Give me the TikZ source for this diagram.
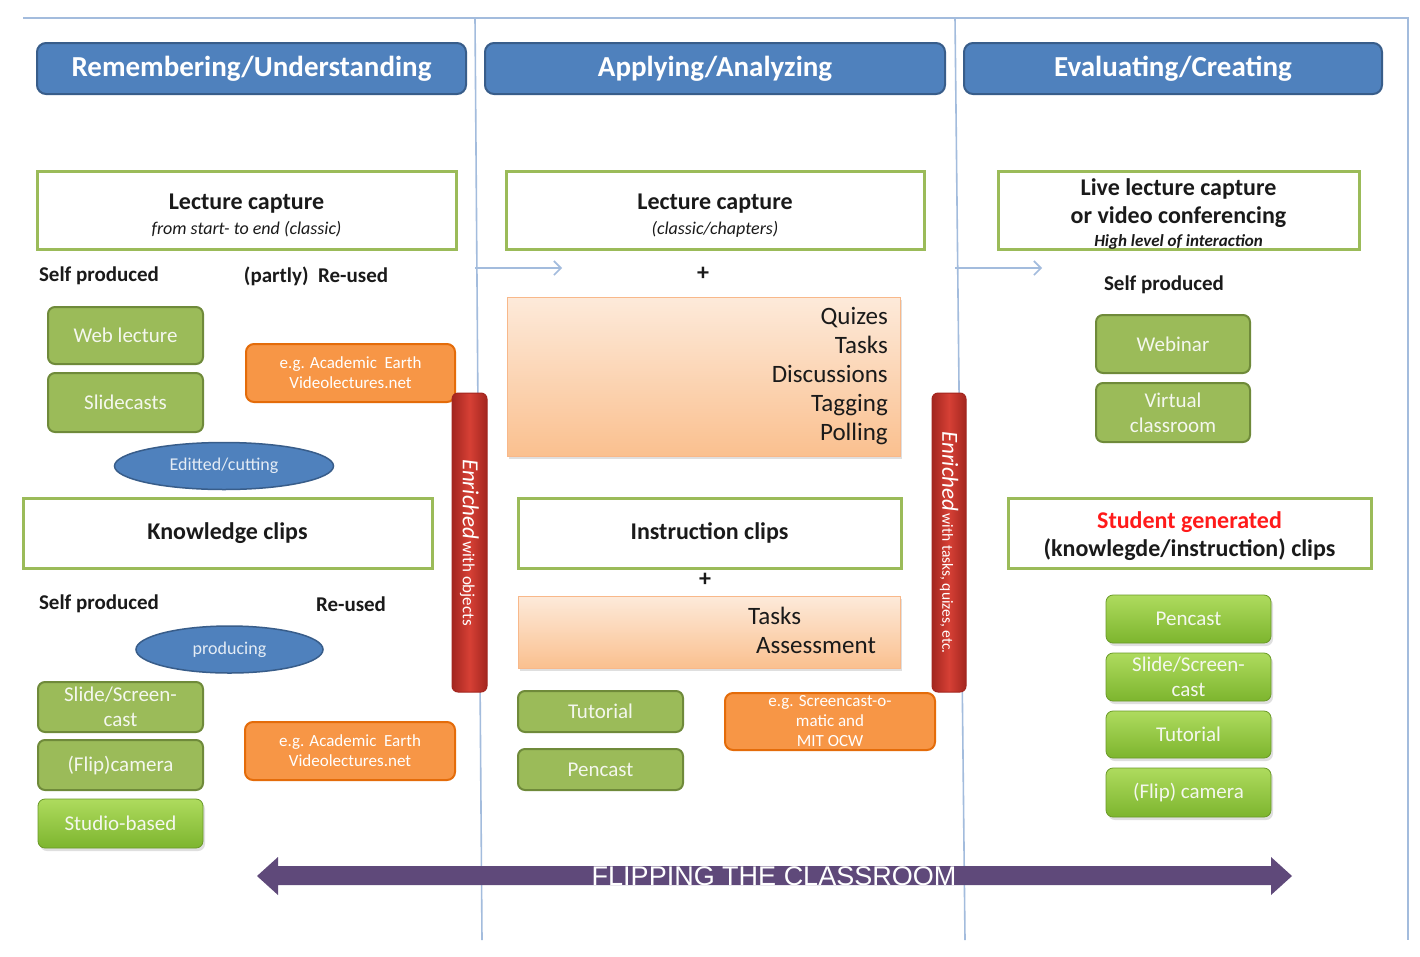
\documentclass[tikz,border=0pt]{standalone}
\usepackage{fontspec}
\setmainfont{Carlito}
\newfontfamily\flipfont{Liberation Sans}
\usetikzlibrary{shapes.geometric,shadows,arrows.meta}
\pgfdeclarelayer{background}
\pgfsetlayers{background,main}

\definecolor{hdrblue}{HTML}{4F81BD}
\definecolor{hdrborder}{HTML}{385D8A}
\definecolor{lcgreen}{HTML}{9BBB59}
\definecolor{gfill}{HTML}{9BBB59}
\definecolor{gborder}{HTML}{6F8A3A}
\definecolor{lgtop}{HTML}{AEDB5E}
\definecolor{lgbot}{HTML}{7DB52E}
\definecolor{ofill}{HTML}{F79646}
\definecolor{oborder}{HTML}{E46C0A}
\definecolor{peachtop}{HTML}{FDEADA}
\definecolor{peachbot}{HTML}{FAC08F}
\definecolor{peachborder}{HTML}{F8B88A}
\definecolor{reddark}{HTML}{A3261F}
\definecolor{redmid}{HTML}{D64035}
\definecolor{purplebar}{HTML}{5F497A}
\definecolor{divblue}{HTML}{A3BCDD}
\definecolor{textdark}{HTML}{1A1A1A}
\definecolor{sgred}{HTML}{FF1A1A}
\definecolor{boxtext}{HTML}{F4F7EE}

\begin{document}
\begin{tikzpicture}[x=1pt,y=-1pt,
  hdr/.style={draw=hdrborder, line width=2pt, fill=hdrblue, rounded corners=9pt,
    text=white, font=\fontsize{29}{32}\selectfont\bfseries, inner sep=0pt},
  titlebox/.style={draw=lcgreen, line width=3pt, fill=white, inner sep=0pt,
    align=center, text=textdark},
  gbox/.style={draw=gborder, line width=2pt, fill=gfill, rounded corners=7pt,
    text=boxtext, font=\fontsize{21}{25}\selectfont, align=center, inner sep=0pt},
  lgbox/.style={draw=lgbot!85!black, line width=0.8pt, top color=lgtop, bottom color=lgbot,
    rounded corners=7pt, text=boxtext, font=\fontsize{21}{25}\selectfont, align=center,
    inner sep=0pt, drop shadow={shadow xshift=2pt, shadow yshift=-3pt, opacity=0.25}},
  obox/.style={draw=oborder, line width=2pt, fill=ofill, rounded corners=8pt,
    text=white, font=\fontsize{17}{20}\selectfont, align=center, inner sep=0pt},
  pbox/.style={draw=peachborder, line width=1pt, top color=peachtop, bottom color=peachbot,
    inner sep=0pt, drop shadow={shadow xshift=2pt, shadow yshift=-3pt, opacity=0.25}},
  listtext/.style={font=\fontsize{25}{29}\selectfont, text=textdark, inner sep=0pt},
  ovalnode/.style={ellipse, draw=hdrborder, line width=1.5pt, fill=hdrblue,
    text=white!85!hdrblue, font=\fontsize{18}{20}\selectfont, inner sep=0pt},
  redbarstyle/.style={draw=reddark, line width=1pt, left color=reddark, right color=reddark,
    middle color=redmid, rounded corners=6pt, inner sep=0pt},
  bartext/.style={rotate=-90, text=white, inner sep=0pt},
  lbl/.style={font=\fontsize{21}{24}\selectfont\bfseries, text=textdark, inner sep=0pt},
  plus/.style={font=\fontsize{24}{26}\selectfont\bfseries, text=textdark, inner sep=0pt},
  tree/.style={draw=divblue, line width=2pt},
  divline/.style={draw=divblue, line width=1.6pt},
  smallarrow/.style={draw=divblue, line width=1.6pt, -{Straight Barb[length=7pt,width=14pt]}}
]
\useasboundingbox (0,0) rectangle (1420,956);
\fill[white] (0,0) rectangle (1420,956);

% frame and dividers
\coordinate (frTL) at (23,18);
\coordinate (frTR) at (1408,18);
\coordinate (frBR) at (1408,940);
\coordinate (d1t) at (475,18);
\coordinate (d1b) at (482,940);
\coordinate (d2t) at (955,18);
\coordinate (d2b) at (965,940);
\draw[divline] (frTL) -- (frTR) -- (frBR);
\draw[divline] (d1t) -- (d1b);
\draw[divline] (d2t) -- (d2b);

% headers
\node[hdr, minimum width=429pt, minimum height=51pt] (h1) at (251.5,68.5) {Remembering/Understanding};
\node[hdr, minimum width=460pt, minimum height=51pt] (h2) at (715,68.5) {Applying/Analyzing};
\node[hdr, minimum width=418pt, minimum height=51pt] (h3) at (1173,68.5) {Evaluating/Creating};

% lecture capture boxes
\node[titlebox, minimum width=419pt, minimum height=78pt, font=\fontsize{24}{25}\selectfont] (lc1) at (246.5,210)
  {\rule{0pt}{26pt}{\bfseries Lecture capture}\\
   {\fontsize{18}{20}\selectfont\itshape from start- to end (classic)}};
\node[titlebox, minimum width=418pt, minimum height=78pt, font=\fontsize{24}{25}\selectfont] (lc2) at (715,210)
  {\rule{0pt}{26pt}{\bfseries Lecture capture}\\
   {\fontsize{18}{20}\selectfont\itshape (classic/chapters)}};
\node[titlebox, minimum width=361pt, minimum height=77pt, font=\fontsize{24}{28}\selectfont\bfseries] (lc3) at (1178.5,210.5)
  {\rule{0pt}{24pt}Live lecture capture\\
   or video conferencing\\[-5pt]
   {\fontsize{17}{19}\selectfont\itshape High level of interaction}};

% small arrows
\coordinate (a1s) at (475,268);
\coordinate (a1e) at (562,268);
\coordinate (a2s) at (955,268);
\coordinate (a2e) at (1042,268);
\draw[smallarrow] (a1s) -- (a1e);
\draw[smallarrow] (a2s) -- (a2e);

% ---------- column 1 ----------
\node[lbl] (sp1) at (99,276) {Self produced};
\node[lbl] (ru1) at (316,276) {(partly)\ \ Re-used};

\node[gbox, minimum width=155pt, minimum height=57pt] (web) at (125.5,335.5) {Web lecture};
\node[gbox, minimum width=155pt, minimum height=59pt] (slc) at (125.5,402.5) {Slidecasts};
\node[obox, minimum width=209pt, minimum height=58pt] (or1) at (350.5,373)
  {e.g. Academic\ \ Earth\\Videolectures.net};
\node[ovalnode, minimum width=219pt, minimum height=47pt] (edit) at (224,466) {Editted/cutting};
\node[titlebox, minimum width=409pt, minimum height=70pt, font=\fontsize{24}{26}\selectfont\bfseries] (kc) at (227.5,533) {Knowledge clips};
\node[lbl] (sp2) at (99,604) {Self produced};
\node[lbl] (ru2) at (351,604) {Re-used};
\node[ovalnode, minimum width=187pt, minimum height=47pt] (prod) at (229.5,649.5) {producing};

\node[gbox, minimum width=165pt, minimum height=50pt] (ssc1) at (120.5,707) {Slide/Screen-\\cast};
\node[gbox, minimum width=165pt, minimum height=50pt] (flip1) at (120.5,765) {(Flip)camera};
\node[lgbox, minimum width=165pt, minimum height=49pt] (studio) at (120.5,823.5) {Studio-based};
\node[obox, minimum width=210pt, minimum height=58pt] (or2) at (350,751)
  {e.g. Academic\ \ Earth\\Videolectures.net};

% red bars
\node[redbarstyle, minimum width=35pt, minimum height=299pt] (rb1) at (469.5,542.5) {};
\node[bartext] (rb1t) at (rb1.center)
  {{\fontsize{23}{25}\selectfont\itshape Enriched} {\fontsize{17}{18}\selectfont with objects}};
\node[redbarstyle, minimum width=34pt, minimum height=299pt] (rb2) at (949,542.5) {};
\node[bartext] (rb2t) at (rb2.center)
  {{\fontsize{23}{25}\selectfont\itshape Enriched} {\fontsize{15.5}{18}\selectfont with tasks, quizes, etc.}};

% ---------- column 2 ----------
\node[plus] (plus1) at (703,274) {+};
\node[pbox, minimum width=393pt, minimum height=159pt] (peach1) at (703.5,376.5) {};
\node[listtext, anchor=east, align=right] (qlist) at (888,376)
  {Quizes\\Tasks\\Discussions\\Tagging\\Polling};
\node[titlebox, minimum width=383pt, minimum height=70pt, font=\fontsize{24}{26}\selectfont\bfseries] (ic) at (709.5,533) {Instruction clips};
\node[plus] (plus2) at (705,580) {+};
\node[pbox, minimum width=382pt, minimum height=72pt] (peach2) at (709,632) {};
\node[listtext, anchor=west, align=left] (tlist) at (748,630)
  {Tasks\\\hspace*{8pt}Assessment};
\node[gbox, minimum width=165pt, minimum height=41pt] (tut2) at (600.5,711.5) {Tutorial};
\node[gbox, minimum width=165pt, minimum height=41pt] (pen2) at (600.5,769.5) {Pencast};
\node[obox, minimum width=210pt, minimum height=57pt] (or3) at (830,721.5)
  {e.g. Screencast-o-\\matic and\\MIT OCW};

% ---------- column 3 ----------
\node[lbl] (sp3) at (1164,285) {Self produced};
\node[gbox, minimum width=154pt, minimum height=58pt] (webinar) at (1173,344) {Webinar};
\node[gbox, minimum width=154pt, minimum height=59pt] (virt) at (1173,412.5) {Virtual\\classroom};
\node[titlebox, minimum width=363pt, minimum height=70pt, font=\fontsize{24}{28}\selectfont\bfseries] (sg) at (1189.5,533)
  {\rule{0pt}{24pt}{\color{sgred}Student generated}\\
   (knowlegde/instruction) clips};
\node[lgbox, minimum width=165pt, minimum height=48pt] (pen3) at (1188.5,619) {Pencast};
\node[lgbox, minimum width=165pt, minimum height=48pt] (ssc3) at (1188.5,677) {Slide/Screen-\\cast};
\node[lgbox, minimum width=165pt, minimum height=47pt] (tut3) at (1188.5,734.5) {Tutorial};
\node[lgbox, minimum width=165pt, minimum height=49pt] (flip3) at (1188.5,792.5) {(Flip) camera};

% ---------- tree connectors ----------
\begin{pgfonlayer}{background}
  \coordinate (t1a) at (223,307);
  \coordinate (t1b) at (223,683);
  \coordinate (t1c) at (223,837);
  \coordinate (t2a) at (704,673);
  \coordinate (t2b) at (704,828);
  \draw[tree] (t1a) -- (prod.north -| t1a);
  \draw[tree] (t1b) -- (t1c);
  \draw[tree] (t2a) -- (t2b);
  \coordinate (wk) at ([yshift=10.5pt]web.east);
  \coordinate (sk) at ([yshift=10.5pt]slc.east);
  \draw[tree] (wk) -- (wk -| t1a);
  \draw[tree] (sk) -- (sk -| t1a);
  \draw[tree] (or1.west) -- (or1.west -| t1a);
  \draw[tree] (ssc1.east) -- (ssc1.east -| t1b);
  \draw[tree] (flip1.east) -- (flip1.east -| t1b);
  \draw[tree] (studio.east) -- (studio.east -| t1b);
  \draw[tree] (or2.west) -- (or2.west -| t1b);
  \coordinate (pk) at ([yshift=9.5pt]pen2.east);
  \draw[tree] (tut2.east) -- (tut2.east -| t2a);
  \draw[tree] (pk) -- (pk -| t2a);
  \draw[tree] (or3.west) -- (or3.west -| t2a);
\end{pgfonlayer}

% ---------- flipping arrow ----------
\coordinate (fl) at (257,876);
\coordinate (fr) at (1292,876);
\fill[purplebar] (fl) -- (278,857) -- (278,866) -- (1271,866) -- (1271,857) -- (fr)
  -- (1271,895) -- (1271,885) -- (278,885) -- (278,895) -- cycle;
\node[text=white, inner sep=0pt, font=\flipfont\fontsize{27}{29}\selectfont] (flip) at (774,876) {FLIPPING THE CLASSROOM};
\end{tikzpicture}
\end{document}
